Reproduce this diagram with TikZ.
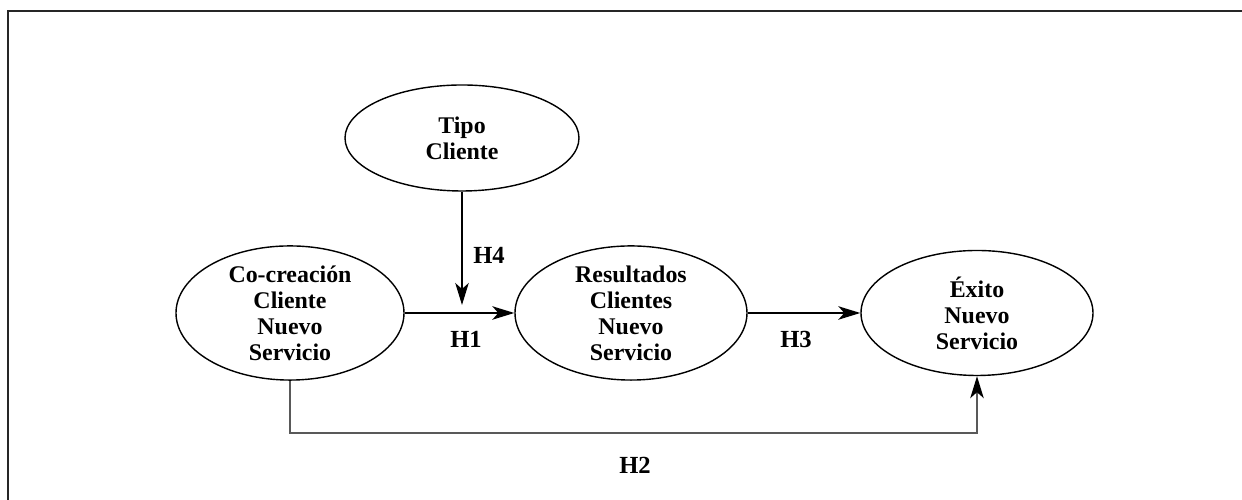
\documentclass[tikz,border=0pt]{standalone}
\usepackage{fontspec}
\setmainfont{Liberation Serif}
\usetikzlibrary{shapes.geometric,arrows.meta}
\begin{document}
\begin{tikzpicture}[
	constructo/.style={ellipse,draw,line width=0.8pt,align=center,
		font=\fontsize{13.6}{14.8}\selectfont\bfseries,inner sep=0pt},
	hipotesis/.style={font=\fontsize{14}{15}\selectfont\bfseries},
	flecha/.style={line width=0.8pt,-{Stealth[length=0.44cm,width=0.27cm,inset=0.12cm,color=black]}}
	]
\def\FRAMECOLOR{black!85}
\def\LINKCOLOR{black!65}
	\useasboundingbox (0,0) rectangle (24.84,10);
	\draw[\FRAMECOLOR,line width=1.1pt] (0.16,0) -- (0.16,9.78) -- (24.84,9.78);

	\node[constructo,minimum width=4.68cm,minimum height=2.12cm] (tipo) at (9.24,7.24) {Tipo\\Cliente};
	\node[constructo,minimum width=4.56cm,minimum height=2.52cm] (cocrea) at (5.8,3.74) {Co-creación\\Cliente\\Nuevo\\Servicio};
	\node[constructo,minimum width=4.64cm,minimum height=2.5cm] (result) at (12.62,3.74) {Resultados\\Clientes\\Nuevo\\Servicio};
	\node[constructo,minimum width=4.64cm,minimum height=2.5cm] (exito) at (19.54,3.74) {Éxito\\Nuevo\\Servicio};

	\coordinate (h4end) at (9.24,3.9);
	\coordinate (h2turn) at (5.8,1.34);

	\draw[flecha] (cocrea) -- (result);
	\draw[flecha] (result) -- (exito);
	\draw[flecha] (tipo) -- (h4end);
	\draw[flecha,\LINKCOLOR] (cocrea.south) -- (h2turn) -| (exito.south);

	\node[hipotesis] (h4) at (9.78,4.9) {H4};
	\node[hipotesis] (h1) at (9.32,3.22) {H1};
	\node[hipotesis] (h3) at (15.92,3.22) {H3};
	\node[hipotesis] (h2) at (12.7,0.7) {H2};

\end{tikzpicture}
\end{document}
